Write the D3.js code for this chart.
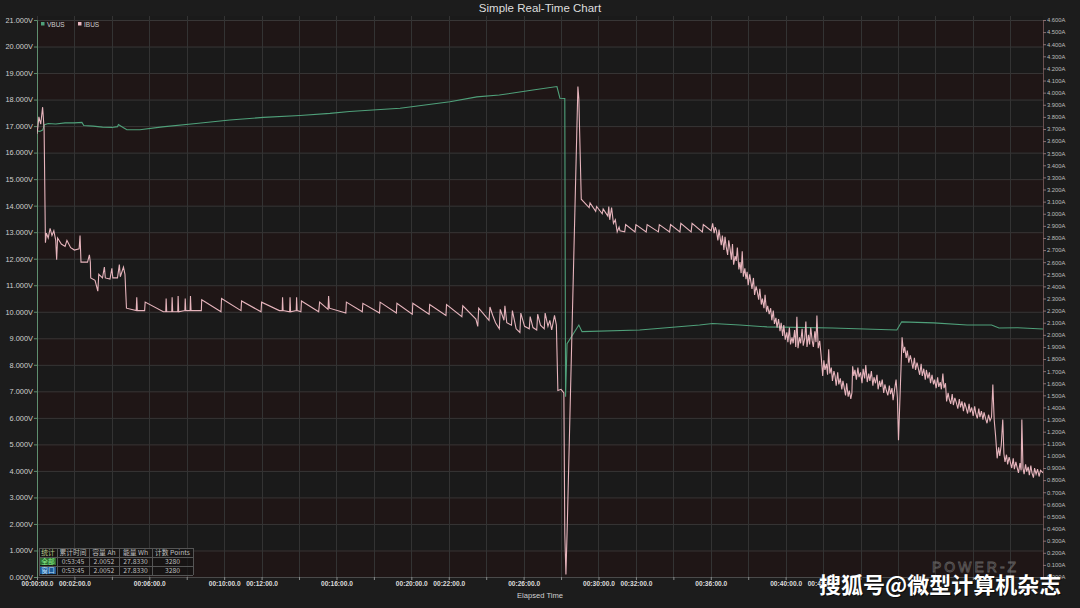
<!DOCTYPE html>
<html><head><meta charset="utf-8">
<script src="https://cdn.jsdelivr.net/npm/d3@7"></script>
<style>
html,body{margin:0;padding:0;background:#1c1c1c;}
svg{display:block;}
</style></head>
<body>
<svg id="c" width="1080" height="608"></svg>
<script>
// ---- DATA ----
const title = "Simple Real-Time Chart";
const seriesNames = ["VBUS", "IBUS"];
const xAxisTitle = "Elapsed Time";
const xTickMinutes = [0,2,4,6,8,10,12,14,16,18,20,22,24,26,28,30,32,34,36,38,40,42,44,46,48,50,52];
const xTickLabelMinutes = [0,2,6,10,12,16,20,22,26,30,32,36,40,42];
const vTicks = [0,1,2,3,4,5,6,7,8,9,10,11,12,13,14,15,16,17,18,19,20,21];
const aTicks = [0,0.1,0.2,0.3,0.4,0.5,0.6,0.7,0.8,0.9,1.0,1.1,1.2,1.3,1.4,1.5,1.6,1.7,1.8,1.9,2.0,2.1,2.2,2.3,2.4,2.5,2.6,2.7,2.8,2.9,3.0,3.1,3.2,3.3,3.4,3.5,3.6,3.7,3.8,3.9,4.0,4.1,4.2,4.3,4.4,4.5,4.6];

// VBUS [minutes, volts]
const vbus = [
 [0,16.82],[0.15,16.8],[0.3,16.85],[0.4,17.05],[0.6,17.1],[1.0,17.08],[1.5,17.12],[2.0,17.12],[2.4,17.14],[2.5,17.02],
 [3.0,17.0],[3.5,16.96],[4.0,16.95],[4.3,16.98],[4.35,17.06],[4.6,16.95],[4.8,16.86],[5.5,16.86],[6.7,16.97],[8.5,17.1],
 [10.3,17.23],[12.1,17.33],[14.05,17.4],[15.65,17.48],[16.7,17.55],[19.4,17.67],[22.06,17.92],[23.5,18.1],[24.7,18.17],
 [26.5,18.36],[27.78,18.49],[27.94,18.05],[28.2,18.04],[28.24,6.8],[28.32,8.8],[28.95,9.5],[29.12,9.25],[32.2,9.31],
 [35.4,9.5],[36.1,9.56],[37.55,9.5],[39.0,9.43],[42.5,9.39],[45.94,9.31],[46.2,9.62],[47.9,9.58],[49.7,9.5],[51.0,9.5],
 [51.4,9.39],[52.4,9.4],[53.75,9.35]
];

// IBUS [minutes, amps]
const ibus = [
 [0,3.66],[0.05,3.72],[0.1,3.80],[0.2,3.74],[0.3,3.88],[0.38,3.70],[0.45,2.76],[0.5,2.84],[0.6,2.80],[0.7,2.88],[0.8,2.82],
 [0.9,2.86],[1.0,2.78],[1.05,2.62],[1.1,2.80],[1.3,2.75],[1.5,2.73],[1.6,2.78],[1.8,2.72],[2.0,2.70],[2.25,2.71],[2.3,2.82],
 [2.35,2.60],[2.7,2.60],[2.8,2.66],[2.85,2.60],[2.87,2.47],[3.1,2.45],[3.25,2.36],[3.3,2.50],[3.5,2.47],[3.6,2.56],[3.65,2.47],
 [3.9,2.46],[4.0,2.55],[4.05,2.47],[4.3,2.47],[4.4,2.58],[4.45,2.48],[4.62,2.56],[4.7,2.50],[4.78,2.22],
 [5.30,2.20],[5.33,2.31],[5.36,2.20],[5.75,2.20],[5.78,2.27],[6.75,2.19],[6.88,2.19],[6.9,2.30],[6.93,2.19],
 [7.2,2.19],[7.22,2.31],[7.25,2.19],[7.52,2.19],[7.54,2.32],[7.57,2.19],[7.9,2.20],[7.92,2.30],[7.95,2.20],
 [8.18,2.20],[8.2,2.32],[8.23,2.20],[8.78,2.20],[8.8,2.29],[9.83,2.19],[9.86,2.30],[10.9,2.20],[10.93,2.28],[11.97,2.19],
 [12.0,2.27],[12.95,2.20],[13.1,2.20],[13.12,2.31],[13.15,2.20],[13.5,2.19],[13.52,2.31],[13.55,2.19],[13.85,2.20],
 [13.87,2.31],[13.9,2.20],[14.1,2.19],[14.13,2.28],[15.05,2.19],[15.1,2.27],[15.55,2.21],[15.58,2.32],[15.62,2.22],
 [16.5,2.18],[16.53,2.27],[17.38,2.19],[17.41,2.26],[18.3,2.18],[18.33,2.27],[19.2,2.18],[19.23,2.26],[20.05,2.17],
 [20.08,2.26],[20.95,2.17],[20.98,2.25],[21.85,2.16],[21.88,2.25],[22.7,2.15],[22.75,2.24],[23.45,2.13],[23.55,2.07],
 [23.6,2.22],[24.15,2.12],[24.2,2.23],[24.35,2.16],[24.5,2.10],[24.7,2.05],[24.75,2.21],[24.95,2.12],[25.0,2.24],[25.1,2.10],
 [25.35,2.08],[25.4,2.20],[25.6,2.05],[25.8,2.02],[25.85,2.18],[26.05,2.07],[26.3,2.05],[26.35,2.15],[26.5,2.06],[26.7,2.04],
 [26.75,2.17],[26.9,2.08],[27.1,2.05],[27.15,2.18],[27.3,2.07],[27.4,2.12],[27.5,2.04],[27.65,2.16],[27.75,2.08],
 [27.83,1.54],[28.0,1.55],[28.15,1.52],[28.2,0.36],[28.26,0.02],[28.33,0.41],[28.9,4.05],[28.95,3.95],[29.08,3.12],
 [29.2,3.10],[29.5,3.05],[29.55,3.09],[29.85,3.02],[29.9,3.06],[30.2,3.0],[30.25,3.04],[30.5,2.98],[30.55,3.06],[30.6,2.95],
 [30.7,3.05],[30.8,2.92],[30.9,2.95],[31.0,2.85],[31.1,2.89],[31.15,2.86],[31.4,2.85],[31.45,2.91],[31.95,2.85],[32.0,2.91],
 [32.55,2.85],[32.6,2.91],[33.2,2.85],[33.25,2.91],[33.8,2.85],[33.85,2.91],[34.35,2.85],[34.4,2.92],[34.95,2.85],[35.0,2.92],
 [35.55,2.85],[35.6,2.91],[36.02,2.86],
 [36.1,2.92],[36.18,2.84],[36.24,2.89],[36.3,2.86],[36.38,2.78],[36.44,2.87],[36.5,2.80],[36.56,2.74],[36.62,2.82],[36.7,2.70],
 [36.76,2.81],[36.82,2.73],[36.9,2.66],[36.96,2.78],[37.04,2.70],[37.1,2.62],[37.16,2.75],[37.22,2.58],[37.3,2.65],[37.36,2.61],
 [37.42,2.72],[37.5,2.54],[37.56,2.60],[37.62,2.51],[37.68,2.69],[37.74,2.48],[37.82,2.55],[37.88,2.46],[37.94,2.52],[38.0,2.41],
 [38.08,2.50],[38.14,2.44],[38.2,2.38],[38.28,2.47],[38.34,2.33],[38.42,2.40],[38.48,2.36],[38.56,2.29],[38.62,2.38],[38.7,2.25],
 [38.76,2.30],[38.84,2.22],[38.9,2.33],[38.98,2.19],[39.04,2.24],[39.12,2.17],[39.2,2.22],[39.26,2.12],[39.34,2.20],[39.4,2.09],
 [39.48,2.14],[39.54,2.06],[39.62,2.13],[39.7,2.03],[39.76,2.10],[39.84,1.99],[39.9,2.08],[39.98,1.96],[40.06,2.02],[40.12,1.94],
 [40.2,2.06],[40.26,1.92],[40.34,1.98],[40.4,1.93],[40.48,2.04],[40.54,1.90],[40.6,2.15],[40.66,1.89],[40.74,1.98],[40.8,1.93],
 [40.88,2.05],[40.94,1.91],[41.02,1.97],[41.08,2.11],[41.14,1.90],[41.22,2.00],[41.28,1.92],[41.34,2.06],[41.42,1.95],[41.48,1.90],
 [41.56,2.03],[41.62,1.94],[41.67,2.16],[41.74,1.89],[41.82,1.95],[41.9,1.82],[41.98,1.66],[42.04,1.79],[42.1,1.71],[42.18,1.76],
 [42.24,1.67],[42.3,1.88],[42.36,1.68],[42.44,1.73],[42.5,1.62],[42.58,1.70],[42.64,1.66],[42.7,1.58],[42.78,1.69],[42.84,1.59],
 [42.92,1.64],[43.0,1.55],[43.06,1.62],[43.12,1.57],[43.2,1.50],[43.26,1.60],[43.34,1.49],[43.4,1.54],[43.48,1.47],[43.54,1.52],
 [43.58,1.74],[43.64,1.66],[43.7,1.71],[43.78,1.63],[43.86,1.73],[43.92,1.65],[44.0,1.69],[44.08,1.60],[44.14,1.72],[44.22,1.64],
 [44.28,1.75],[44.36,1.61],[44.44,1.68],[44.5,1.62],[44.58,1.70],[44.66,1.58],[44.72,1.65],[44.8,1.60],[44.88,1.67],[44.94,1.55],
 [45.02,1.62],[45.08,1.57],[45.16,1.63],[45.24,1.52],[45.3,1.59],[45.38,1.54],[45.46,1.50],[45.54,1.58],[45.6,1.51],[45.68,1.56],
 [45.74,1.46],[45.82,1.55],[45.9,1.63],[45.97,1.48],[46.03,1.13],[46.22,1.98],[46.3,1.85],[46.36,1.90],[46.44,1.81],[46.5,1.87],
 [46.58,1.77],[46.66,1.83],[46.72,1.79],[46.8,1.72],[46.88,1.81],[46.94,1.71],[47.02,1.77],[47.08,1.73],[47.16,1.67],[47.24,1.76],
 [47.3,1.66],[47.38,1.72],[47.46,1.63],[47.52,1.71],[47.6,1.64],[47.68,1.69],[47.74,1.60],[47.82,1.67],[47.9,1.59],[47.96,1.63],
 [48.04,1.56],[48.12,1.65],[48.18,1.57],[48.26,1.61],[48.32,1.55],[48.4,1.68],[48.46,1.56],[48.54,1.60],[48.6,1.45],[48.68,1.52],
 [48.74,1.47],[48.82,1.43],[48.9,1.51],[48.96,1.42],[49.04,1.48],[49.12,1.44],[49.2,1.39],[49.28,1.47],[49.34,1.40],[49.42,1.45],
 [49.5,1.37],[49.56,1.44],[49.64,1.40],[49.72,1.35],[49.8,1.43],[49.86,1.36],[49.94,1.40],[50.02,1.33],[50.1,1.41],[50.16,1.35],
 [50.24,1.31],[50.32,1.39],[50.38,1.32],[50.46,1.37],[50.54,1.30],[50.6,1.36],[50.68,1.31],[50.76,1.27],[50.84,1.34],[50.92,1.29],
 [51.0,1.32],[51.07,1.59],[51.14,1.30],[51.22,1.16],[51.3,0.98],[51.38,1.07],[51.44,1.00],[51.52,1.09],[51.6,1.30],[51.66,1.02],
 [51.72,0.95],[51.8,1.01],[51.86,0.93],[51.94,0.99],[52.0,0.95],[52.08,0.90],[52.16,0.98],[52.22,0.89],[52.3,0.95],[52.36,0.91],
 [52.44,0.86],[52.52,0.94],[52.58,0.88],[52.62,1.30],[52.68,0.90],[52.74,0.85],[52.82,0.93],[52.88,0.87],[52.96,0.91],[53.02,0.84],
 [53.1,0.92],[53.16,0.86],[53.24,0.82],[53.3,0.90],[53.38,0.85],[53.46,0.89],[53.54,0.83],[53.62,0.88],[53.75,0.86]
];

// stats table
const statHeaders = ["统计","累计时间","容量 Ah","能量 Wh","计数 Points"];
const statRows = [["全部","0:53:45","2.0052","27.8330","3280"],["窗口","0:53:45","2.0052","27.8330","3280"]];
const watermark = "搜狐号@微型计算机杂志";
const logoText = "POWER-Z";

// ---- DRAW ----
const W = 1080, H = 608;
const L = 37, R = 1043, T = 16, B = 577;
const svg = d3.select("#c");
const font = "'Liberation Sans', Arial, sans-serif";

svg.append("rect").attr("width",W).attr("height",H).attr("fill","#1c1c1c");

const x = d3.scaleLinear().domain([0,53.75]).range([L,R]);
const yV = d3.scaleLinear().domain([0,21]).range([B,20]);
const yA = d3.scaleLinear().domain([0,4.6]).range([B,20]);

// plot bg + bands
svg.append("rect").attr("x",L).attr("y",T).attr("width",R-L).attr("height",B-T).attr("fill","#1a1a1a");
const bandG = svg.append("g");
vTicks.slice(0,-1).forEach((v,i)=>{
  if(i%2===0) bandG.append("rect").attr("x",L).attr("width",R-L)
    .attr("y",yV(v+1)).attr("height",yV(v)-yV(v+1)).attr("fill","#1f1616");
});

// grid
const grid = svg.append("g");
vTicks.forEach(v=>{
  grid.append("line").attr("x1",L).attr("x2",R).attr("y1",yV(v)+0.5).attr("y2",yV(v)+0.5)
    .attr("stroke","#383636").attr("stroke-width",1);
});
xTickMinutes.forEach(m=>{
  grid.append("line").attr("y1",T).attr("y2",B).attr("x1",Math.round(x(m))+0.5).attr("x2",Math.round(x(m))+0.5)
    .attr("stroke","#333333").attr("stroke-width",1);
});

// axes
const leftAxis = d3.axisLeft(yV).tickValues(vTicks).tickFormat(d=>d3.format(".3f")(d)+"V").tickSize(3);
const gl = svg.append("g").attr("transform",`translate(${L},0)`).call(leftAxis);
gl.select(".domain").attr("stroke","#5f8f6f");
gl.selectAll(".tick line").attr("stroke","#5f8f6f");
gl.selectAll("text").attr("fill","#cfcfcf").attr("font-family",font).attr("font-size","7.4px").attr("x",-4);

const rightAxis = d3.axisRight(yA).tickValues(aTicks).tickFormat(d=>d3.format(".3f")(d)+"A").tickSize(3);
const gr = svg.append("g").attr("transform",`translate(${R},0)`).call(rightAxis);
gr.select(".domain").attr("stroke","#6a5050");
gr.selectAll(".tick line").attr("stroke","#8a7070");
gr.selectAll("text").attr("fill","#bdbdbd").attr("font-family",font).attr("font-size","5.8px").attr("x",4);

const fmtMin = m => { const h=Math.floor(m/60), mm=m%60; return String(h).padStart(2,"0")+":"+String(mm).padStart(2,"0")+":00.0"; };
const bottomAxis = d3.axisBottom(x).tickValues(xTickMinutes).tickSize(3)
  .tickFormat(d=> xTickLabelMinutes.includes(d) ? fmtMin(d) : "");
const gb = svg.append("g").attr("transform",`translate(0,${B})`).call(bottomAxis);
gb.select(".domain").attr("stroke","#4a4a4a");
gb.selectAll(".tick line").attr("stroke","#8a8a8a");
gb.selectAll("text").attr("fill","#dcdcdc").attr("font-family",font).attr("font-size","6.6px").attr("font-weight","bold").attr("y",4);

svg.append("text").attr("x",540).attr("y",598).attr("text-anchor","middle").attr("fill","#d0d0d0")
  .attr("font-family",font).attr("font-size","7.6px").text(xAxisTitle);

svg.append("text").attr("x",540).attr("y",12).attr("text-anchor","middle").attr("fill","#dedede")
  .attr("font-family",font).attr("font-size","11.5px").text(title);

// lines
svg.append("clipPath").attr("id","pc").append("rect").attr("x",L).attr("y",T).attr("width",R-L).attr("height",B-T+1);
const lv = d3.line().x(d=>x(d[0])).y(d=>yV(d[1]));
const la = d3.line().x(d=>x(d[0])).y(d=>yA(d[1]));
svg.append("path").datum(vbus).attr("d",lv).attr("fill","none").attr("stroke","#4fa07a").attr("stroke-width",1.1).attr("clip-path","url(#pc)");
svg.append("path").datum(ibus).attr("d",la).attr("fill","none").attr("stroke","#e6b4bc").attr("stroke-width",1.1).attr("clip-path","url(#pc)");

// legend
const legColors = ["#4fa07a","#eab8c0"];
const leg = svg.append("g");
seriesNames.forEach((n,i)=>{
  const lx = 41 + i*37;
  leg.append("rect").attr("x",lx).attr("y",22).attr("width",3.5).attr("height",3.5).attr("fill",legColors[i]);
  leg.append("text").attr("x",lx+6).attr("y",26.5).attr("fill","#cfcfcf").attr("font-family",font).attr("font-size","6.5px").text(n);
});

// POWER-Z logo
svg.append("text").attr("x",932).attr("y",572).attr("fill","none").attr("stroke","#8a8a8a").attr("stroke-width",0.8)
  .attr("font-family",font).attr("font-size","14px").attr("letter-spacing","3px").attr("opacity",0.6).text(logoText);

// stats table
const colX = [39,57,89,119,152,193];
const rowY = [548,557,566,575];
const tg = svg.append("g").attr("font-family","'Noto Sans CJK SC', sans-serif").attr("font-size","6.8px");
tg.append("rect").attr("x",colX[0]).attr("y",rowY[0]).attr("width",colX[5]-colX[0]).attr("height",rowY[3]-rowY[0]).attr("fill","rgba(20,20,20,0.7)");
statRows.forEach((r,ri)=>{
  tg.append("rect").attr("x",colX[0]+1).attr("y",rowY[ri+1]+1).attr("width",colX[1]-colX[0]-2).attr("height",rowY[ri+2]-rowY[ri+1]-2)
    .attr("fill", ri===0 ? "#2f6d33" : "#1f5a96");
});
for(let r=0;r<4;r++) tg.append("line").attr("x1",colX[0]).attr("x2",colX[5]).attr("y1",rowY[r]+0.5).attr("y2",rowY[r]+0.5).attr("stroke","#555");
colX.forEach(cx=> tg.append("line").attr("x1",cx+0.5).attr("x2",cx+0.5).attr("y1",rowY[0]).attr("y2",rowY[3]).attr("stroke","#555"));
statHeaders.forEach((h,i)=>{
  tg.append("text").attr("x",(colX[i]+colX[i+1])/2).attr("y",rowY[0]+7).attr("text-anchor","middle").attr("fill", i===0?"#b8c88a":"#bdbdbd").text(h);
});
statRows.forEach((r,ri)=>{
  r.forEach((c,ci)=>{
    tg.append("text").attr("x",(colX[ci]+colX[ci+1])/2).attr("y",rowY[ri+1]+7).attr("text-anchor","middle")
      .attr("fill", ci===0 ? (ri===0?"#8cf08c":"#bfe0ff") : "#bdbdbd").text(c);
  });
});

// watermark
const wm = svg.append("g").attr("font-family","'Noto Sans CJK SC', sans-serif").attr("font-size","22px").attr("font-weight","bold");
wm.append("text").attr("x",819).attr("y",593).attr("fill","#000").attr("opacity",0.6).attr("transform","translate(1,1)").text(watermark);
wm.append("text").attr("x",819).attr("y",593).attr("fill","#ffffff").text(watermark);
</script>
</body></html>
